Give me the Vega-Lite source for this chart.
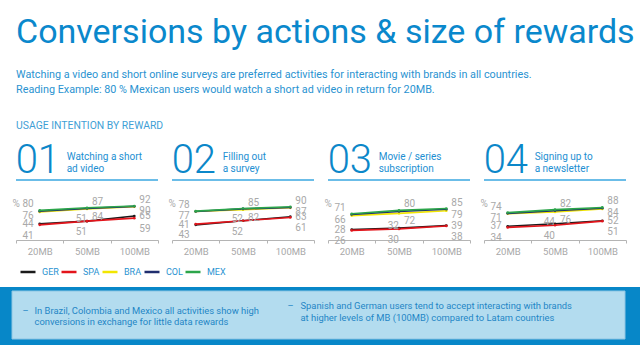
{
  "$schema": "https://vega.github.io/schema/vega-lite/v6.json",
  "padding": {"left": 0, "top": 15, "right": 0, "bottom": 0},
  "background": "#ffffff",
  "config": {"view": {"stroke": null}, "font": "Roboto"},
  "title": {
    "text": "Conversions by actions & size of rewards",
    "subtitle": ["Watching a video and short online surveys are preferred activities for interacting with brands in all countries.", "Reading Example: 80 % Mexican users would watch a short ad video in return for 20MB."],
    "anchor": "start", "frame": "group", "dx": 0,
    "font": "Roboto", "fontSize": 34, "fontWeight": "normal", "color": "#0a88cc",
    "subtitleFont": "Roboto", "subtitleFontSize": 10.8, "subtitleColor": "#2a93d1", "subtitleLineHeight": 15, "subtitlePadding": 19, "offset": 26
  },
  "datasets": {
    "actions": [
      {"panel": "01", "action": ["Watching a short", "ad video"]},
      {"panel": "02", "action": ["Filling out", "a survey"]},
      {"panel": "03", "action": ["Movie / series", "subscription"]},
      {"panel": "04", "action": ["Signing up to", "a newsletter"]}
    ],
    "conv": [
      {"panel": "01", "reward": "20MB", "country": "GER", "value": 44},
      {"panel": "01", "reward": "50MB", "country": "GER", "value": 51},
      {"panel": "01", "reward": "100MB", "country": "GER", "value": 65},
      {"panel": "01", "reward": "20MB", "country": "SPA", "value": 41},
      {"panel": "01", "reward": "50MB", "country": "SPA", "value": 51},
      {"panel": "01", "reward": "100MB", "country": "SPA", "value": 59},
      {"panel": "01", "reward": "20MB", "country": "BRA", "value": 76},
      {"panel": "01", "reward": "50MB", "country": "BRA", "value": 84},
      {"panel": "01", "reward": "100MB", "country": "BRA", "value": 90},
      {"panel": "01", "reward": "20MB", "country": "COL", "value": 78},
      {"panel": "01", "reward": "50MB", "country": "COL", "value": 85},
      {"panel": "01", "reward": "100MB", "country": "COL", "value": 91},
      {"panel": "01", "reward": "20MB", "country": "MEX", "value": 80},
      {"panel": "01", "reward": "50MB", "country": "MEX", "value": 87},
      {"panel": "01", "reward": "100MB", "country": "MEX", "value": 92},
      {"panel": "02", "reward": "20MB", "country": "GER", "value": 41},
      {"panel": "02", "reward": "50MB", "country": "GER", "value": 52},
      {"panel": "02", "reward": "100MB", "country": "GER", "value": 63},
      {"panel": "02", "reward": "20MB", "country": "SPA", "value": 43},
      {"panel": "02", "reward": "50MB", "country": "SPA", "value": 52},
      {"panel": "02", "reward": "100MB", "country": "SPA", "value": 61},
      {"panel": "02", "reward": "20MB", "country": "BRA", "value": 77},
      {"panel": "02", "reward": "50MB", "country": "BRA", "value": 82},
      {"panel": "02", "reward": "100MB", "country": "BRA", "value": 87},
      {"panel": "02", "reward": "20MB", "country": "COL", "value": 77},
      {"panel": "02", "reward": "50MB", "country": "COL", "value": 84},
      {"panel": "02", "reward": "100MB", "country": "COL", "value": 88},
      {"panel": "02", "reward": "20MB", "country": "MEX", "value": 78},
      {"panel": "02", "reward": "50MB", "country": "MEX", "value": 85},
      {"panel": "02", "reward": "100MB", "country": "MEX", "value": 90},
      {"panel": "03", "reward": "20MB", "country": "GER", "value": 28},
      {"panel": "03", "reward": "50MB", "country": "GER", "value": 32},
      {"panel": "03", "reward": "100MB", "country": "GER", "value": 39},
      {"panel": "03", "reward": "20MB", "country": "SPA", "value": 26},
      {"panel": "03", "reward": "50MB", "country": "SPA", "value": 30},
      {"panel": "03", "reward": "100MB", "country": "SPA", "value": 38},
      {"panel": "03", "reward": "20MB", "country": "BRA", "value": 66},
      {"panel": "03", "reward": "50MB", "country": "BRA", "value": 72},
      {"panel": "03", "reward": "100MB", "country": "BRA", "value": 79},
      {"panel": "03", "reward": "20MB", "country": "COL", "value": 69},
      {"panel": "03", "reward": "50MB", "country": "COL", "value": 77},
      {"panel": "03", "reward": "100MB", "country": "COL", "value": 83},
      {"panel": "03", "reward": "20MB", "country": "MEX", "value": 71},
      {"panel": "03", "reward": "50MB", "country": "MEX", "value": 80},
      {"panel": "03", "reward": "100MB", "country": "MEX", "value": 85},
      {"panel": "04", "reward": "20MB", "country": "GER", "value": 37},
      {"panel": "04", "reward": "50MB", "country": "GER", "value": 44},
      {"panel": "04", "reward": "100MB", "country": "GER", "value": 52},
      {"panel": "04", "reward": "20MB", "country": "SPA", "value": 34},
      {"panel": "04", "reward": "50MB", "country": "SPA", "value": 40},
      {"panel": "04", "reward": "100MB", "country": "SPA", "value": 51},
      {"panel": "04", "reward": "20MB", "country": "BRA", "value": 71},
      {"panel": "04", "reward": "50MB", "country": "BRA", "value": 76},
      {"panel": "04", "reward": "100MB", "country": "BRA", "value": 84},
      {"panel": "04", "reward": "20MB", "country": "COL", "value": 72},
      {"panel": "04", "reward": "50MB", "country": "COL", "value": 79},
      {"panel": "04", "reward": "100MB", "country": "COL", "value": 86},
      {"panel": "04", "reward": "20MB", "country": "MEX", "value": 74},
      {"panel": "04", "reward": "50MB", "country": "MEX", "value": 82},
      {"panel": "04", "reward": "100MB", "country": "MEX", "value": 88}
    ]
  },
  "spacing": 28,
  "vconcat": [
    {
      "data": {"name": "conv"},
      "transform": [{"lookup": "panel", "from": {"data": {"name": "actions"}, "key": "panel", "fields": ["action"]}}],
      "title": {"text": "USAGE INTENTION BY REWARD", "anchor": "start", "frame": "group", "dx": 0, "font": "Roboto", "fontSize": 10.4, "fontWeight": "normal", "color": "#3f9fd6", "offset": 10},
      "facet": {"column": {"field": "panel", "type": "nominal", "header": null}},
      "spacing": 14,
      "bounds": "flush",
      "resolve": {"axis": {"y": "independent"}},
      "spec": {
        "width": 142, "height": 37,
        "layer": [
          {"mark": {"type": "line", "strokeWidth": 1.6, "point": {"filled": true, "size": 7}},
           "encoding": {
             "x": {"field": "reward", "type": "ordinal", "sort": ["20MB", "50MB", "100MB"], "scale": {"type": "band", "paddingInner": 0, "paddingOuter": 0}, "axis": {"title": null, "labelAngle": 0, "domainColor": "#b4b4b4", "tickColor": "#b4b4b4", "tickBand": "extent", "tickSize": 3, "labelColor": "#a8a8a8", "labelFontSize": 9.5, "labelPadding": 3, "grid": false}},
             "y": {"field": "value", "type": "quantitative", "scale": {"domain": [0, 100]}, "axis": {"title": "%", "offset": 16, "domain": true, "domainColor": "#ffffff", "domainWidth": 0.1, "titleAngle": 0, "titleX": 12, "titleY": 0, "titleAlign": "left", "titleBaseline": "middle", "titleColor": "#aaaaaa", "titleFontSize": 10, "titleFontWeight": "normal", "ticks": false, "labels": false, "grid": false}},
             "color": {"field": "country", "type": "nominal", "sort": ["GER", "SPA", "BRA", "COL", "MEX"], "scale": {"domain": ["GER", "SPA", "BRA", "COL", "MEX"], "range": ["#1a1a1a", "#e3141b", "#f2e600", "#1f2d6e", "#2ca54a"]}, "legend": {"orient": "none", "legendX": 3, "legendY": 60, "direction": "horizontal", "title": null, "symbolType": "stroke", "symbolSize": 225, "symbolStrokeWidth": 2.5, "labelFontSize": 9, "labelColor": "#2a93d1", "labelOffset": 5, "columnPadding": -3}}
           }},
          {"transform": [{"filter": "datum.country != 'COL'"}],
           "mark": {"type": "text", "fontSize": 10, "color": "#a9a9a9", "baseline": "middle",
             "align": {"expr": "datum.reward == '20MB' || (datum.reward == '50MB' && (datum.country == 'GER' || datum.country == 'SPA')) ? 'right' : 'left'"},
             "dx": {"expr": "datum.reward == '20MB' ? -6 : (datum.reward == '50MB' && (datum.country == 'GER' || datum.country == 'SPA')) ? 0 : 5"},
             "dy": {"expr": "datum.country == 'MEX' ? -6 : datum.country == 'BRA' ? (datum.reward == '50MB' ? 8 : 4) : datum.country == 'GER' ? (datum.reward == '50MB' ? -2 : 0) : 11"}},
           "encoding": {
             "x": {"field": "reward", "type": "ordinal", "sort": ["20MB", "50MB", "100MB"]},
             "y": {"field": "value", "type": "quantitative", "scale": {"domain": [0, 100]}},
             "text": {"field": "value", "type": "quantitative"}
           }},
          {"transform": [{"filter": "datum.country == 'GER' && datum.reward == '20MB'"}],
           "layer": [
             {"mark": {"type": "rule", "color": "#3aa7e1", "strokeWidth": 1.5},
              "encoding": {"y": {"datum": 162, "type": "quantitative", "scale": {"domain": [0, 100]}}}},
             {"mark": {"type": "text", "align": "left", "baseline": "alphabetic", "dx": -24, "fontSize": 40, "fontWeight": 300, "color": "#0b87c9"},
              "encoding": {"x": {"datum": "20MB", "type": "ordinal"}, "y": {"datum": 181, "type": "quantitative", "scale": {"domain": [0, 100]}}, "text": {"field": "panel", "type": "nominal"}}},
             {"mark": {"type": "text", "align": "left", "baseline": "alphabetic", "dx": 27, "fontSize": 10, "lineHeight": 12, "color": "#1d8fd2"},
              "encoding": {"x": {"datum": "20MB", "type": "ordinal"}, "y": {"datum": 215, "type": "quantitative", "scale": {"domain": [0, 100]}}, "text": {"field": "action", "type": "nominal"}}}
           ]}
        ]
      }
    },
    {
      "width": 624, "height": 58,
      "data": {"values": [{}]},
      "view": {"fill": null, "stroke": null},
      "layer": [
        {"mark": {"type": "rect", "fill": "#0787c8"},
         "encoding": {
           "x": {"datum": -16, "type": "quantitative", "scale": {"domain": [0, 624], "nice": false, "zero": false}, "axis": null},
           "x2": {"datum": 624},
           "y": {"datum": 0, "type": "quantitative", "scale": {"domain": [58, 0], "nice": false, "zero": false}, "axis": null},
           "y2": {"datum": 58}
         }},
        {"mark": {"type": "rect", "fill": "#b3dcef", "stroke": "#8dc5e3", "strokeWidth": 1},
         "encoding": {
           "x": {"datum": -4, "type": "quantitative", "axis": {"orient": "top", "domain": false, "ticks": false, "labels": false, "grid": false, "zindex": 1, "title": ["In Brazil, Colombia and Mexico all activities show high", "conversions in exchange for little data rewards"], "titleX": 18, "titleY": 26.5, "titleAlign": "left", "titleBaseline": "alphabetic", "titleFontSize": 9.4, "titleFontWeight": "normal", "titleColor": "#1f86c6", "titleLineHeight": 11}},
           "x2": {"datum": 609},
           "y": {"datum": 4, "type": "quantitative", "axis": {"orient": "left", "domain": false, "ticks": false, "labels": false, "grid": false, "zindex": 1, "title": ["Spanish and German users tend to accept interacting with brands", "at higher levels of MB (100MB) compared to Latam countries"], "titleAngle": 0, "titleX": 284, "titleY": 21.5, "titleAlign": "left", "titleBaseline": "alphabetic", "titleFontSize": 9.4, "titleFontWeight": "normal", "titleColor": "#1f86c6", "titleLineHeight": 11.5}},
           "y2": {"datum": 52}
         }},
        {"mark": {"type": "point", "opacity": 0},
         "encoding": {
           "x": {"datum": 0, "type": "quantitative", "axis": {"orient": "bottom", "domain": false, "ticks": false, "labels": false, "grid": false, "zindex": 1, "title": "–", "titleX": 6, "titleY": -31.5, "titleAlign": "left", "titleBaseline": "alphabetic", "titleFontSize": 9.4, "titleFontWeight": "normal", "titleColor": "#1f86c6"}},
           "y": {"datum": 0, "type": "quantitative", "axis": {"orient": "right", "domain": false, "ticks": false, "labels": false, "grid": false, "zindex": 1, "title": "–", "titleAngle": 0, "titleX": -353, "titleY": 21.5, "titleAlign": "left", "titleBaseline": "alphabetic", "titleFontSize": 9.4, "titleFontWeight": "normal", "titleColor": "#1f86c6"}}
         }}
      ],
      "resolve": {"axis": {"x": "independent", "y": "independent"}}
    }
  ]
}
